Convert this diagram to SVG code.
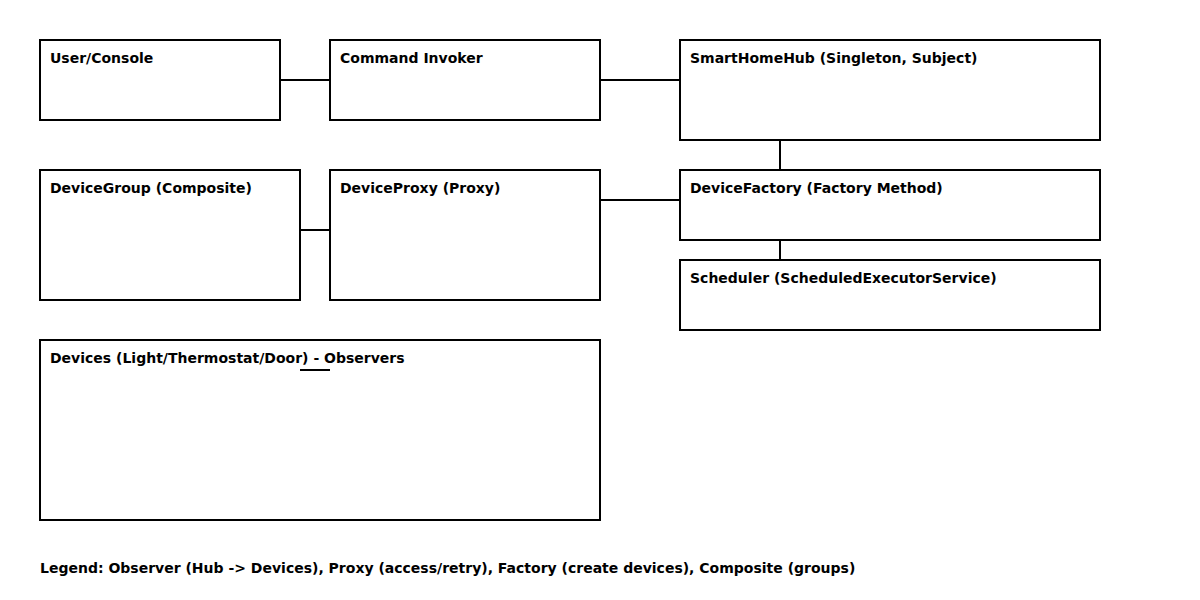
<svg xmlns="http://www.w3.org/2000/svg" width="1200" height="600" viewBox="0 0 1200 600">
<style>
.box{fill:#fff;stroke:#000;stroke-width:2}
.lbl{font-family:"DejaVu Sans",sans-serif;font-weight:bold;font-size:14px;fill:#000}
.conn line{stroke:#000;stroke-width:2}
</style>
<rect width="1200" height="600" fill="#fff"/>
<g id="user"><rect class="box" x="40" y="40" width="240" height="80"/><text class="lbl" x="50" y="63">User/Console</text></g>
<g id="invoker"><rect class="box" x="330" y="40" width="270" height="80"/><text class="lbl" x="340" y="63">Command Invoker</text></g>
<g id="hub"><rect class="box" x="680" y="40" width="420" height="100"/><text class="lbl" x="690" y="63">SmartHomeHub (Singleton, Subject)</text></g>
<g id="group"><rect class="box" x="40" y="170" width="260" height="130"/><text class="lbl" x="50" y="193">DeviceGroup (Composite)</text></g>
<g id="proxy"><rect class="box" x="330" y="170" width="270" height="130"/><text class="lbl" x="340" y="193">DeviceProxy (Proxy)</text></g>
<g id="factory"><rect class="box" x="680" y="170" width="420" height="70"/><text class="lbl" x="690" y="193">DeviceFactory (Factory Method)</text></g>
<g id="scheduler"><rect class="box" x="680" y="260" width="420" height="70"/><text class="lbl" x="690" y="283">Scheduler (ScheduledExecutorService)</text></g>
<g id="devices"><rect class="box" x="40" y="340" width="560" height="180"/><text class="lbl" x="50" y="363">Devices (Light/Thermostat/Door) - Observers</text></g>
<g id="connectors" class="conn">
<line x1="280" y1="80" x2="330" y2="80"/>
<line x1="600" y1="80" x2="680" y2="80"/>
<line x1="780" y1="140" x2="780" y2="170"/>
<line x1="600" y1="200" x2="680" y2="200"/>
<line x1="300" y1="230" x2="330" y2="230"/>
<line x1="780" y1="240" x2="780" y2="260"/>
<line x1="300" y1="370" x2="330" y2="370"/>
</g>
<text id="legend" class="lbl" x="40" y="573">Legend: Observer (Hub -&gt; Devices), Proxy (access/retry), Factory (create devices), Composite (groups)</text>
</svg>
